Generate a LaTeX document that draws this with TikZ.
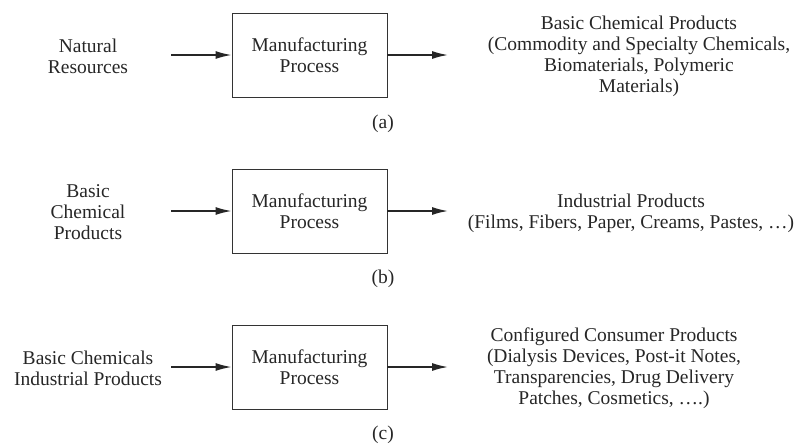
\documentclass[tikz,border=0pt]{standalone}
\usepackage{fontspec}
\setmainfont{Liberation Serif}
\usetikzlibrary{arrows.meta}
\begin{document}
\begin{tikzpicture}[x=1pt,y=-1pt,
  procbox/.style={draw=black!80,line width=0.9pt,minimum width=155pt,minimum height=84pt,inner sep=0pt,
    align=center,font=\fontsize{19.5}{21}\selectfont,text=black!85},
  lbl/.style={align=center,font=\fontsize{19.5}{21}\selectfont,text=black!85,inner sep=0pt},
  flow/.style={draw=black!85,line width=1.5pt,-{Latex[length=16pt,width=8pt]}}]
\useasboundingbox (0,0) rectangle (794,445);

% (a) natural resources to basic chemical products
\node[procbox] (pa) at (309.5,55) {Manufacturing\\Process};
\node[lbl] (ia) at (88,56) {Natural\\Resources};
\coordinate (ias) at (171,55);
\coordinate (oae) at (448,55);
\node[lbl] (oa) at (639,56) {Basic Chemical Products\\(Commodity and Specialty Chemicals,\\Biomaterials, Polymeric\\Materials)};
\draw[flow] (ias) -- (pa.west);
\draw[flow] (pa.east) -- (oae);
\node[lbl] (ca) at (383,124) {(a)};

% (b) basic chemicals to industrial products
\node[procbox] (pb) at (309.5,211) {Manufacturing\\Process};
\node[lbl] (ib) at (88,212) {Basic\\Chemical\\Products};
\coordinate (ibs) at (171,211);
\coordinate (obe) at (448,211);
\node[lbl] (ob) at (631,213) {Industrial Products\\(Films, Fibers, Paper, Creams, Pastes, \dots)};
\draw[flow] (ibs) -- (pb.west);
\draw[flow] (pb.east) -- (obe);
\node[lbl] (cb) at (383,279) {(b)};

% (c) configured consumer products
\node[procbox] (pc) at (309.5,367) {Manufacturing\\Process};
\node[lbl] (ic) at (88,368) {Basic Chemicals\\Industrial Products};
\coordinate (ics) at (171,367);
\coordinate (oce) at (448,367);
\node[lbl] (oc) at (614,368) {Configured Consumer Products\\(Dialysis Devices, Post-it Notes,\\Transparencies, Drug Delivery\\Patches, Cosmetics, \dots.)};
\draw[flow] (ics) -- (pc.west);
\draw[flow] (pc.east) -- (oce);
\node[lbl] (cc) at (383,435) {(c)};
\end{tikzpicture}
\end{document}
